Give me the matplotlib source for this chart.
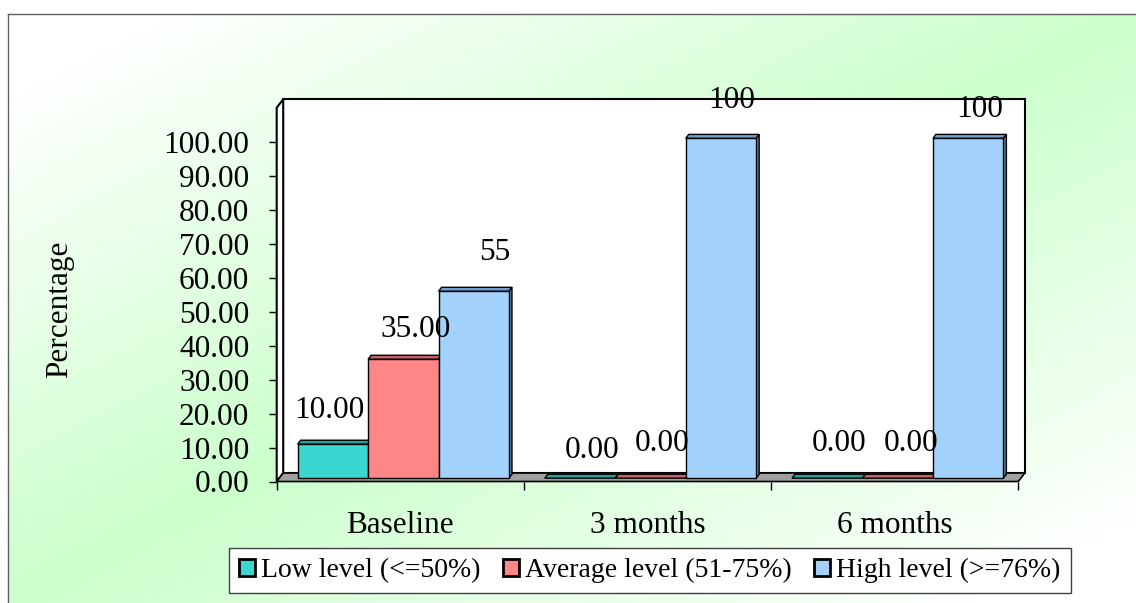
import numpy as np
import matplotlib
matplotlib.use('Agg')
import matplotlib.pyplot as plt
from matplotlib.patches import Polygon, Patch
from matplotlib.lines import Line2D

# Datos del grafico
categories = ['Baseline', '3 months', '6 months']
series_names = ['Low level (<=50%)', 'Average level (51-75%)', 'High level (>=76%)']
low_values = [10, 0, 0]
average_values = [35, 0, 0]
high_values = [55, 100, 100]
low_labels = ['10.00', '0.00', '0.00']
average_labels = ['35.00', '0.00', '0.00']
high_labels = ['55', '100', '100']
y_ticks = [0, 10, 20, 30, 40, 50, 60, 70, 80, 90, 100]

values = [low_values, average_values, high_values]
labels = [low_labels, average_labels, high_labels]

# colores: cara frontal, cara superior, cara lateral
front_colors = ['#3ad6d0', '#ff8686', '#a2d2fc']
top_colors = ['#2a9e9a', '#c46262', '#6f9fd0']
side_colors = ['#1f7a78', '#a04848', '#5a84b4']

# desplazamiento de las etiquetas de datos (pixeles)
label_offsets = [[(-3, 34), (12, 28), (12, 35)],
                 [(12, 30), (12, 35), (13, 35)],
                 [(21, 39), (11, 38), (12, 29)]]

plt.rcParams['font.family'] = ['Liberation Serif', 'DejaVu Serif']

W, H = 1136, 603
fig = plt.figure(figsize=(W / 100, H / 100), dpi=100)

# Fondo con degradado verde
bg = fig.add_axes([8 / W, 0, 1 - 8 / W, 1 - 14 / H], zorder=-10)
u = np.linspace(0, 1, 500)
v = np.linspace(0, 1, 300)
U, V = np.meshgrid(u, v)
t = np.clip(1 - np.abs(U + V - 1) * 1.15, 0, 1)
green = np.array([204, 255, 204]) / 255
img = 1 - t[..., None] * (1 - green)
bg.imshow(img, aspect='auto', origin='upper', extent=[0, 1, 0, 1])
bg.axis('off')

# marco del area del grafico
fig.add_artist(Line2D([8 / W, 8 / W], [0, 1 - 14 / H], color='#606060', lw=1))
fig.add_artist(Line2D([8 / W, 1], [1 - 14 / H, 1 - 14 / H], color='#606060', lw=1))

# Ejes principales (plano frontal)
x0, x1 = 276.7, 1018.3
y0, y1 = 481.5, 481.5 - 110 * 3.398
ax = fig.add_axes([x0 / W, 1 - y0 / H, (x1 - x0) / W, (y0 - y1) / H])
ax.set_xlim(0, 3)
ax.set_ylim(0, 110)
ax.patch.set_alpha(0)
for s in ax.spines.values():
    s.set_visible(False)


def px(dx, dy):
    # convertir pixeles a unidades de datos
    p0 = ax.transData.transform((0, 0))
    p1 = ax.transData.transform((1, 1))
    return dx / (p1[0] - p0[0]), dy / (p1[1] - p0[1])


# paredes y piso en 3D
wx, wy = px(6.5, 8.5)
ax.add_patch(Polygon([(wx, wy), (3 + wx, wy), (3 + wx, 110 + wy), (wx, 110 + wy)],
                     fc='white', ec='black', lw=1.5, zorder=1, clip_on=False))
ax.add_patch(Polygon([(0, 0), (0, 110), (wx, 110 + wy), (wx, wy)],
                     fc='white', ec='black', lw=1.5, zorder=1.1, clip_on=False))
ax.add_patch(Polygon([(0, 0), (3, 0), (3 + wx, wy), (wx, wy)],
                     fc='#a0a0a0', ec='black', lw=1.2, zorder=1.2, clip_on=False))

# Barras
bw = 0.285
sx, sy = px(3, 3.3)
dx, dy = px(3, 4)
for i in range(len(categories)):
    for j in range(len(values)):
        h = values[j][i]
        xc = i + 0.5 + (j - 1) * bw + sx
        z = 2 + (i * 3 + j) * 0.01
        xl, xr = xc - bw / 2, xc + bw / 2
        ax.add_patch(Polygon([(xl, sy + h), (xr, sy + h), (xr + dx, sy + h + dy), (xl + dx, sy + h + dy)],
                             fc=top_colors[j], ec='black', lw=1, zorder=z, clip_on=False))
        ax.add_patch(Polygon([(xr, sy), (xr + dx, sy + dy), (xr + dx, sy + h + dy), (xr, sy + h)],
                             fc=side_colors[j], ec='black', lw=1, zorder=z, clip_on=False))
        if h > 0:
            ax.bar(xc, h, bw, bottom=sy, color=front_colors[j], edgecolor='black',
                   linewidth=1, zorder=z + 0.001, clip_on=False)
        ox, oy = label_offsets[j][i]
        ax.annotate(labels[j][i], (xc, sy + h), xytext=(ox, oy), textcoords='offset pixels',
                    ha='center', va='center', fontsize=22.5, zorder=10, annotation_clip=False)

# Ejes y etiquetas
ax.set_yticks(y_ticks)
ax.set_yticklabels([f'{v:.2f}' for v in y_ticks])
ax.tick_params(axis='y', length=5.8, width=1, pad=14, labelsize=22.5, direction='out')
ax.set_xticks([0, 1, 2, 3])
ax.set_xticklabels([])
ax.set_xticks([0.5, 1.5, 2.5], minor=True)
ax.set_xticklabels(categories, minor=True)
ax.tick_params(axis='x', which='major', length=5.8, width=1, direction='out')
ax.tick_params(axis='x', which='minor', length=0, pad=21, labelsize=22.5)

fig.text(60 / W, 1 - 309 / H, 'Percentage', rotation=90, ha='center', va='center', fontsize=22.5)

# Leyenda
handles = [Patch(facecolor=c, edgecolor='black', linewidth=2) for c in front_colors]
leg = fig.legend(handles, series_names, loc='center', bbox_to_anchor=(650 / W, 1 - 570.5 / H),
                 ncol=3, fontsize=20, handlelength=0.58, handleheight=0.58, handletextpad=0.22,
                 columnspacing=0.8, borderpad=0.35, fancybox=False, edgecolor='#404040',
                 framealpha=1, borderaxespad=0)
leg.get_frame().set_linewidth(1)

fig.savefig('out.png', dpi=100)
